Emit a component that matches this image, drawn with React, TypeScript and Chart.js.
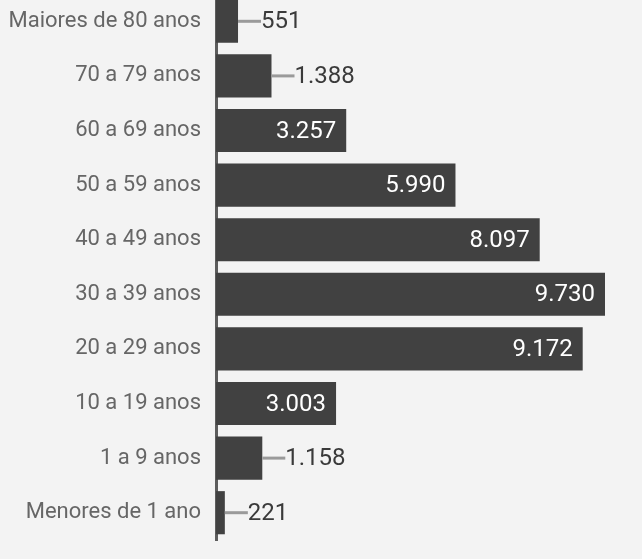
import React, { useEffect, useRef } from "react";
import { Chart, registerables } from "chart.js";

Chart.register(...registerables);

const categories = [
  "Maiores de 80 anos",
  "70 a 79 anos",
  "60 a 69 anos",
  "50 a 59 anos",
  "40 a 49 anos",
  "30 a 39 anos",
  "20 a 29 anos",
  "10 a 19 anos",
  "1 a 9 anos",
  "Menores de 1 ano",
];
const values = [551, 1388, 3257, 5990, 8097, 9730, 9172, 3003, 1158, 221];
const valueLabels = ["551", "1.388", "3.257", "5.990", "8.097", "9.730", "9.172", "3.003", "1.158", "221"];

const BG = "#f3f3f3";
const BAR = "#414141";

const valuePlugin = {
  id: "valueLabels",
  afterDatasetsDraw(chart: any) {
    const ctx = chart.ctx;
    const meta = chart.getDatasetMeta(0);
    ctx.save();
    ctx.font = "24px Roboto";
    ctx.textBaseline = "middle";
    meta.data.forEach((bar: any, i: number) => {
      const text = valueLabels[i];
      const tw = ctx.measureText(text).width;
      const left = bar.base;
      const right = bar.x;
      const y = bar.y;
      const w = right - left;
      if (w > tw + 24) {
        ctx.fillStyle = "#ffffff";
        ctx.textAlign = "right";
        ctx.fillText(text, right - 10, y + 1);
      } else {
        ctx.strokeStyle = "#9a9a9a";
        ctx.lineWidth = 3;
        ctx.beginPath();
        ctx.moveTo(right, y);
        ctx.lineTo(right + 23, y);
        ctx.stroke();
        ctx.fillStyle = "#3a3a3a";
        ctx.textAlign = "left";
        ctx.fillText(text, right + 23, y + 1);
      }
    });
    ctx.restore();
  },
};

export default function App() {
  const ref = useRef<HTMLCanvasElement>(null);
  useEffect(() => {
    document.body.style.margin = "0";
    document.body.style.background = BG;
    document.body.style.overflow = "hidden";
    const chart = new Chart(ref.current!, {
      type: "bar",
      data: {
        labels: categories,
        datasets: [
          {
            data: values,
            backgroundColor: BAR,
            borderWidth: 0,
            barPercentage: 0.79,
            categoryPercentage: 1,
          },
        ],
      },
      options: {
        indexAxis: "y",
        animation: false,
        responsive: true,
        maintainAspectRatio: false,
        layout: { padding: { left: 0, right: 37, top: 0, bottom: 21 } },
        plugins: { legend: { display: false }, tooltip: { enabled: false } },
        scales: {
          x: { display: false, min: 0, max: 9730 },
          y: {
            grid: { display: false, drawTicks: false },
            border: { display: true, color: "#5c5c5c", width: 3 },
            ticks: {
              color: "#666666",
              font: { family: "Roboto", size: 22 },
              padding: 15,
            },
            afterFit(scale: any) {
              scale.width = 216;
              scale.paddingTop = 0;
              scale.paddingBottom = 0;
            },
          },
        },
      },
      plugins: [valuePlugin],
    });
    return () => chart.destroy();
  }, []);
  return (
    <div style={{ position: "relative", width: 642, height: 567, marginTop: -6, background: BG }}>
      <canvas ref={ref} />
    </div>
  );
}
